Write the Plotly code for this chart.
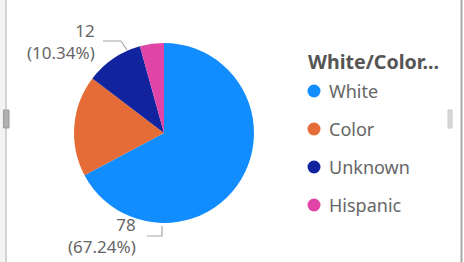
import plotly.graph_objects as go

categories = ["White", "Color", "Unknown", "Hispanic"]
counts = [78, 21, 12, 5]
colors = ["#118DFF", "#E66C37", "#12239E", "#E044A7"]
legend_title = "White/Color..."
labelled = ["White", "Unknown"]

W, H = 464, 262
total = sum(counts)

def px(x):
    return x / W

def py(y):
    return 1 - y / H

fig = go.Figure()
fig.add_trace(go.Pie(
    labels=categories, values=counts, sort=False, direction="clockwise", rotation=0,
    marker=dict(colors=colors, line=dict(width=0)),
    textinfo="none", hoverinfo="label+value+percent", showlegend=False,
    domain=dict(x=[px(74), px(254)], y=[py(223), py(43)]),
))

font_fam = "Segoe UI, Noto Sans, Open Sans, sans-serif"
label_pos = {"White": (138, 235), "Unknown": (97, 42)}
for c, v in zip(categories, counts):
    if c in labelled:
        x, y = label_pos[c]
        fig.add_annotation(
            x=px(x), y=py(y), xref="paper", yref="paper", xanchor="right", yanchor="middle",
            text=f"{v}<br>({v / total * 100:.2f}%)", showarrow=False, align="right",
            font=dict(family=font_fam, size=17, color="#666666"),
        )

# legend (drawn as text + swatches)
fig.add_annotation(
    x=px(306), y=py(61), xref="paper", yref="paper", xanchor="left", yanchor="middle",
    text=f"<b>{legend_title}</b>", showarrow=False,
    font=dict(family=font_fam, size=19.6, color="#555555"),
)
legend_shapes = []
for i, (c, col) in enumerate(zip(categories, colors)):
    yc = 91 + 38 * i
    legend_shapes.append(dict(type="circle", xref="paper", yref="paper",
                              x0=px(307.5), x1=px(320.5), y0=py(yc + 6.5), y1=py(yc - 6.5),
                              fillcolor=col, line=dict(width=0)))
    fig.add_annotation(
        x=px(327), y=py(yc), xref="paper", yref="paper", xanchor="left", yanchor="middle",
        text=c, showarrow=False, font=dict(family=font_fam, size=18, color="#666666"),
    )

line_col = "#a6a6a6"
shapes = [
    dict(type="path", path=f"M {px(103)} {py(41)} L {px(121)} {py(41)} L {px(127)} {py(50)}"),
    dict(type="path", path=f"M {px(147)} {py(236)} L {px(162)} {py(236)} L {px(162)} {py(226)}"),
]
for s in shapes:
    s.update(xref="paper", yref="paper", line=dict(color=line_col, width=1.2))

frame = [
    dict(type="rect", x0=px(0), x1=px(5), y0=0, y1=1, fillcolor="#f3f3f3", line=dict(width=0)),
    dict(type="line", x0=px(6), x1=px(6), y0=0, y1=1, line=dict(color="#d2d2d2", width=2)),
    dict(type="rect", x0=px(3.5), x1=px(9), y0=py(128), y1=py(110), fillcolor="#b0b0b0", line=dict(color="#9a9a9a", width=1)),
    dict(type="line", x0=px(461.5), x1=px(461.5), y0=0, y1=1, line=dict(color="#a8a8a8", width=2)),
    dict(type="rect", x0=px(448), x1=px(452), y0=py(128), y1=py(110), fillcolor="#d8d8d8", line=dict(color="#c8c8c8", width=1)),
]
for s in frame:
    s.update(xref="paper", yref="paper", layer="above")

fig.update_layout(
    width=W, height=H, margin=dict(l=0, r=0, t=0, b=0),
    paper_bgcolor="white", plot_bgcolor="white",
    shapes=shapes + legend_shapes + frame,
    showlegend=False,
)

fig.write_html("out.html", config={"displayModeBar": False},
               post_script="document.body.style.margin='0';document.body.style.overflow='hidden';")
